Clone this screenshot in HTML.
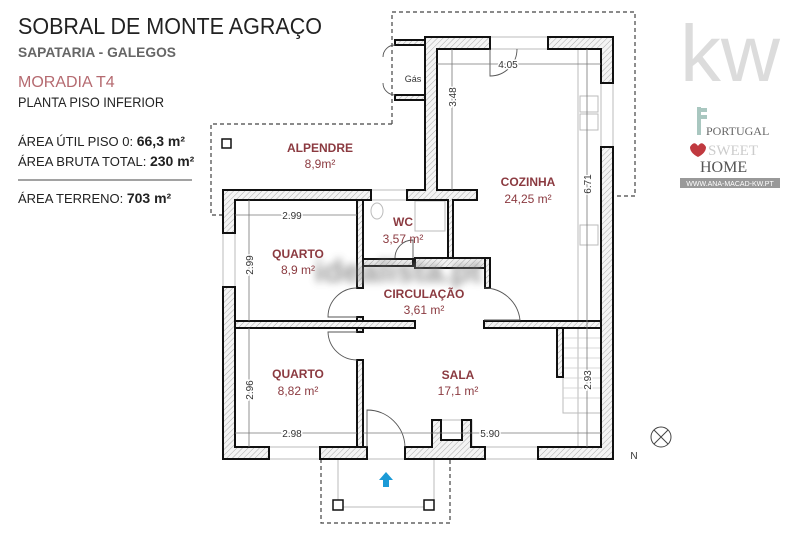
<!DOCTYPE html>
<html><head><meta charset="utf-8"><style>
body{margin:0;background:#fff;}
svg{display:block;font-family:"Liberation Sans",sans-serif;}
.w{fill:#e8e8e8;stroke:#111;stroke-width:2;}
.lbl{font-weight:bold;font-size:12px;fill:#8b3a40;text-anchor:middle;font-family:"Liberation Sans Narrow","Liberation Sans",sans-serif;}
.ar{font-size:12px;fill:#8b3a40;text-anchor:middle;}
.dim{font-size:10px;fill:#333;text-anchor:middle;}
.dl{stroke:#777;stroke-width:0.8;fill:none;}
.thin{stroke:#bbb;stroke-width:1;fill:none;}
.dash{stroke:#444;stroke-width:1.2;fill:none;stroke-dasharray:4 3;}
.arc{stroke:#555;stroke-width:0.9;fill:none;}
</style></head><body>
<svg width="800" height="533" viewBox="0 0 800 533">
<defs><pattern id="h" width="4" height="4" patternUnits="userSpaceOnUse" patternTransform="rotate(45)"><rect width="4" height="4" fill="#f4f4f4"/><line x1="0" y1="0" x2="0" y2="4" stroke="#aaa" stroke-width="1"/></pattern>
<filter id="bl"><feGaussianBlur stdDeviation="4"/></filter></defs>

<!-- header text -->
<text x="18" y="34" font-size="23" fill="#222" textLength="304" lengthAdjust="spacingAndGlyphs">SOBRAL DE MONTE AGRAÇO</text>
<text x="18" y="57" font-size="14" fill="#666" font-weight="bold" textLength="158" lengthAdjust="spacingAndGlyphs">SAPATARIA - GALEGOS</text>
<text x="18" y="87" font-size="16" fill="#b56a70">MORADIA T4</text>
<text x="18" y="107" font-size="14" fill="#222" textLength="146" lengthAdjust="spacingAndGlyphs">PLANTA PISO INFERIOR</text>
<text x="18" y="146" font-size="13" fill="#222">ÁREA ÚTIL PISO 0: <tspan font-weight="bold" font-size="14">66,3 m²</tspan></text>
<text x="18" y="166" font-size="13" fill="#222">ÁREA BRUTA TOTAL: <tspan font-weight="bold" font-size="14">230 m²</tspan></text>
<line x1="18" y1="180" x2="192" y2="180" stroke="#444" stroke-width="1"/>
<text x="18" y="203" font-size="13" fill="#222">ÁREA TERRENO: <tspan font-weight="bold" font-size="14">703 m²</tspan></text>

<!-- logos -->
<text x="680" y="81" font-size="80" fill="#dcdcdc" font-family="Liberation Sans" textLength="100" lengthAdjust="spacingAndGlyphs">kw</text>
<rect x="697" y="107" width="4" height="28" fill="#a9c7c0"/>
<rect x="697" y="108" width="10" height="4" fill="#a9c7c0"/>
<rect x="697" y="115" width="10" height="4" fill="#a9c7c0"/>
<text x="706" y="135" font-size="12" fill="#666" font-family="Liberation Serif">PORTUGAL</text>
<path d="M690 147 q4 -7 8 -1 q4 -6 8 1 q0 6 -8 10 q-8 -4 -8 -10z" fill="#c0393f"/>
<text x="708" y="155" font-size="15" fill="#ccc" font-family="Liberation Serif">SWEET</text>
<text x="700" y="172" font-size="16" fill="#555" font-family="Liberation Serif">HOME</text>
<rect x="680" y="178" width="100" height="10" fill="#999"/>
<text x="730" y="186" font-size="7" fill="#fff" text-anchor="middle">WWW.ANA-MACAD-KW.PT</text>

<!-- dashed outlines -->
<path class="dash" d="M392 124 V12 H635 V196 H616"/>
<path class="dash" d="M392 124 H211 V215 H223"/>
<path class="dash" d="M321 459 V523 H450 V459"/>
<rect x="338" y="459" width="96" height="48" class="thin"/>
<rect x="333" y="500" width="10" height="10" fill="#fff" stroke="#111" stroke-width="1.5"/>
<rect x="424" y="500" width="10" height="10" fill="#fff" stroke="#111" stroke-width="1.5"/>
<rect x="222" y="139" width="9" height="9" fill="#fff" stroke="#111" stroke-width="1.5"/>
<path d="M386 472 l-7 8 h4 v7 h6 v-7 h4z" fill="#1b9ad6"/>

<!-- thin fixtures -->
<rect x="578" y="49" width="23" height="398" class="thin"/>
<rect x="580" y="96" width="18" height="16" class="thin"/><rect x="580" y="114" width="18" height="16" class="thin"/>
<rect x="580" y="225" width="18" height="20" class="thin"/>
<rect x="563" y="328" width="38" height="85" class="thin"/>
<g stroke="#ccc" stroke-width="0.8"><line x1="563" y1="338" x2="601" y2="338"/><line x1="563" y1="348" x2="601" y2="348"/><line x1="563" y1="358" x2="601" y2="358"/><line x1="563" y1="368" x2="601" y2="368"/><line x1="563" y1="378" x2="601" y2="378"/><line x1="563" y1="388" x2="601" y2="388"/><line x1="563" y1="398" x2="601" y2="398"/></g>
<rect x="415" y="201" width="30" height="30" class="thin"/>
<ellipse cx="377" cy="211" rx="6" ry="8" class="thin" stroke="#999"/>
<rect x="432" y="420" width="40" height="27" class="thin"/>
<!-- windows -->
<g class="thin"><rect x="490" y="37" width="58" height="12"/><rect x="601" y="83" width="12" height="64"/><rect x="223" y="233" width="12" height="54"/><rect x="269" y="447" width="51" height="12"/><rect x="485" y="447" width="53" height="12"/><rect x="371" y="190" width="36" height="10"/></g>

<!-- walls -->
<g class="w" style="fill:url(#h)">
<path d="M425 190 V37 H490 V49 H437 V190 H477 V200 H453 V259 H448 V200 H407 V190 Z"/>
<path d="M548 37 H613 V83 H601 V49 H548 Z"/>
<path d="M601 147 H613 V459 H538 V447 H601 Z"/>
<path d="M223 233 V190 H371 V200 H235 V233 Z"/>
<path d="M223 287 H235 V447 H269 V459 H223 Z"/>
<rect x="320" y="447" width="47" height="12"/>
<path d="M405 447 H432 V420 H441 V440 H462 V420 H471 V447 H485 V459 H405 Z"/>
<rect x="357" y="200" width="6" height="88"/>
<rect x="357" y="317" width="6" height="15"/>
<rect x="357" y="360" width="6" height="87"/>
<rect x="235" y="321" width="180" height="7"/>
<rect x="484" y="321" width="117" height="7"/>
<rect x="363" y="259" width="50" height="7"/>
<rect x="415" y="258" width="75" height="10"/>
<rect x="485" y="258" width="5" height="30"/>
<rect x="557" y="328" width="6" height="49"/>
<rect x="395" y="40" width="30" height="5"/><rect x="395" y="95" width="30" height="5"/>
</g>
<text x="413" y="82" font-size="9" fill="#333" text-anchor="middle">Gás</text>

<!-- doors -->
<g class="arc">
<path d="M490 49 v27 a27 27 0 0 0 27 -27"/>
<path d="M357 288 a29 29 0 0 0 -29 29 h29"/>
<path d="M357 332 h-29 a29 29 0 0 0 29 28"/>
<path d="M484 288 a36 36 0 0 1 36 32 h-36"/>
<path d="M367 447 v-37 a38 38 0 0 1 38 37"/>
<path d="M413 258 v-18 a18 18 0 0 0 -18 18"/>
<path d="M395 45 a12 12 0 0 0 -12 12 M395 95 a12 12 0 0 1 -12 -12"/>
</g>

<!-- dimension lines -->
<g class="dl">
<line x1="437" y1="64" x2="601" y2="64"/><line x1="452" y1="49" x2="452" y2="190"/>
<line x1="587" y1="49" x2="587" y2="447"/><line x1="235" y1="215" x2="357" y2="215"/>
<line x1="249" y1="200" x2="249" y2="321"/><line x1="249" y1="328" x2="249" y2="447"/>
<line x1="235" y1="433" x2="357" y2="433"/><line x1="363" y1="433" x2="601" y2="433"/>
</g>
<g class="dim">
<text x="508" y="68" style="paint-order:stroke" stroke="#fff" stroke-width="3">4.05</text>
<text x="292" y="219" style="paint-order:stroke" stroke="#fff" stroke-width="3">2.99</text>
<text x="292" y="437" style="paint-order:stroke" stroke="#fff" stroke-width="3">2.98</text>
<text x="490" y="437" style="paint-order:stroke" stroke="#fff" stroke-width="3">5.90</text>
<text transform="translate(456,97) rotate(-90)" style="paint-order:stroke" stroke="#fff" stroke-width="3">3.48</text>
<text transform="translate(591,184) rotate(-90)" style="paint-order:stroke" stroke="#fff" stroke-width="3">6.71</text>
<text transform="translate(253,265) rotate(-90)" style="paint-order:stroke" stroke="#fff" stroke-width="3">2.99</text>
<text transform="translate(253,390) rotate(-90)" style="paint-order:stroke" stroke="#fff" stroke-width="3">2.96</text>
<text transform="translate(591,380) rotate(-90)" style="paint-order:stroke" stroke="#fff" stroke-width="3">2.93</text>
</g>

<!-- watermark -->
<text x="398" y="282" font-size="32" font-weight="bold" fill="#888" text-anchor="middle" filter="url(#bl)" opacity="0.85">idealista.pt</text>

<!-- labels -->
<text x="320" y="152" class="lbl">ALPENDRE</text><text x="320" y="168" class="ar">8,9m²</text>
<text x="528" y="186" class="lbl">COZINHA</text><text x="528" y="203" class="ar">24,25 m²</text>
<text x="403" y="226" class="lbl">WC</text><text x="403" y="243" class="ar">3,57 m²</text>
<text x="298" y="258" class="lbl">QUARTO</text><text x="298" y="274" class="ar">8,9 m²</text>
<text x="424" y="298" class="lbl">CIRCULAÇÃO</text><text x="424" y="314" class="ar">3,61 m²</text>
<text x="298" y="378" class="lbl">QUARTO</text><text x="298" y="395" class="ar">8,82 m²</text>
<text x="458" y="379" class="lbl">SALA</text><text x="458" y="395" class="ar">17,1 m²</text>

<!-- compass -->
<circle cx="661" cy="437" r="10" fill="none" stroke="#444" stroke-width="1"/>
<path d="M654 430 L668 444 M668 430 L654 444" stroke="#444" stroke-width="1"/>
<text x="634" y="459" font-size="10" fill="#333" text-anchor="middle">N</text>
</svg>
</body></html>
